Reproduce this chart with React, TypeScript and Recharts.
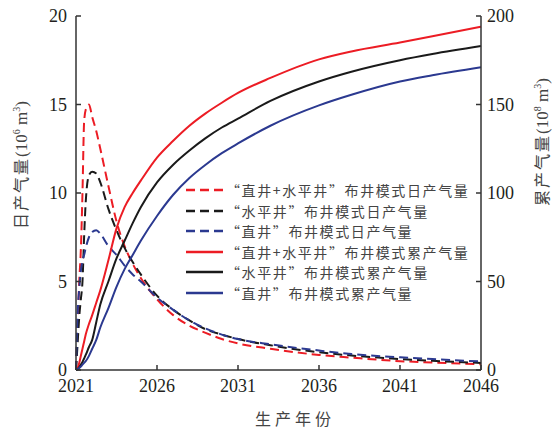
import { LineChart, Line, XAxis, YAxis, Legend } from "recharts";

// 生产年份 (numeric, finer near the early peak)
const years = [
  2021, 2021.1, 2021.2, 2021.3, 2021.4, 2021.5, 2021.6, 2021.8, 2022, 2022.25, 2022.5, 2023, 2023.5, 2024, 2024.5,
  2025, 2026, 2027, 2028, 2029, 2030, 2031, 2033, 2036, 2038, 2041, 2043, 2046,
];

// 日产气量 (10^6 m3)
const dailyMixed = [
  0, 2.5, 5, 6.8, 10, 14, 14.7, 15.0, 14.3, 13.5, 12.5, 10.4, 8.4, 7.0, 6.0, 5.2, 4.0, 3.1, 2.5, 2.1, 1.75, 1.5, 1.2,
  0.85, 0.7, 0.5, 0.42, 0.32,
];
const dailyHorizontal = [
  0, 1.5, 3, 4, 5, 7.5, 9.5, 11.0, 11.2, 11.1, 10.6, 9.1, 7.9, 6.9, 6.1, 5.4, 4.2, 3.4, 2.8, 2.3, 2.0, 1.75, 1.4, 1.0,
  0.82, 0.62, 0.52, 0.4,
];
const dailyVertical = [
  0, 3.2, 4.6, 5.6, 6.2, 6.5, 6.9, 7.5, 7.8, 7.9, 7.7, 7.0, 6.5, 5.9, 5.4, 5.0, 4.1, 3.4, 2.8, 2.35, 2.0, 1.75, 1.45,
  1.1, 0.9, 0.72, 0.62, 0.48,
];

// 累产气量 (10^8 m3)
const cumMixed = [
  0, 1, 4, 8, 12, 16, 20, 26, 31, 38, 45, 62, 80, 92, 100, 107, 120, 129.5, 138, 145, 151, 156.5, 165, 175.5, 180, 185,
  188.5, 194,
];
const cumHorizontal = [
  0, 0.5, 1.5, 3, 4.5, 6.5, 8.5, 13, 17, 27, 37, 50, 63, 73, 83, 92, 106, 116, 124, 131, 137, 142, 152, 163, 168.5, 175,
  178.5, 183,
];
const cumVertical = [
  0, 0.5, 1.2, 2, 3, 4, 5, 8, 12, 17, 24, 35, 47, 57, 65, 73, 87, 99, 108.5, 116, 122.5, 128, 138, 149.5, 155.5, 163,
  166.5, 171,
];

const seriesNames = [
  "“直井+水平井”布井模式日产气量",
  "“水平井”布井模式日产气量",
  "“直井”布井模式日产气量",
  "“直井+水平井”布井模式累产气量",
  "“水平井”布井模式累产气量",
  "“直井”布井模式累产气量",
];

const xTicks = [2021, 2026, 2031, 2036, 2041, 2046];
const leftTicks = [0, 5, 10, 15, 20];
const rightTicks = [0, 50, 100, 150, 200];

const RED = "#ec1c24";
const BLACK = "#1a1a1a";
const BLUE = "#2b3990";

const data = years.map((year, i) => ({
  year,
  dailyMixed: dailyMixed[i],
  dailyHorizontal: dailyHorizontal[i],
  dailyVertical: dailyVertical[i],
  cumMixed: cumMixed[i],
  cumHorizontal: cumHorizontal[i],
  cumVertical: cumVertical[i],
}));

const serif = "'Liberation Serif', 'Times New Roman', 'Noto Sans CJK SC', serif";
const cjk = "'Noto Sans CJK SC', 'Noto Sans', sans-serif";
const tickStyle = { fontFamily: serif, fontSize: 18, fill: "#231f20" };
const axisLine = { stroke: "#333", strokeWidth: 1.5 };

function renderLegend(props: any) {
  const payload = [...(props.payload || [])].sort(
    (a: any, b: any) => seriesNames.indexOf(a.value) - seriesNames.indexOf(b.value),
  );
  return (
    <div style={{ fontFamily: cjk, fontSize: 14, color: "#444", letterSpacing: 1.6 }}>
      {payload.map((entry: any) => (
        <div key={entry.value} style={{ display: "flex", alignItems: "center", height: 20.5, whiteSpace: "nowrap" }}>
          <svg width={40} height={4} style={{ display: "block" }}>
            <line
              x1={0}
              y1={2}
              x2={37}
              y2={2}
              stroke={entry.color}
              strokeWidth={2.5}
              strokeDasharray={entry.payload?.strokeDasharray}
            />
          </svg>
          <span>{entry.value}</span>
        </div>
      ))}
    </div>
  );
}

export default function App() {
  return (
    <div style={{ position: "absolute", left: 0, top: 0, background: "#fff" }}>
      <LineChart width={558} height={432} data={data} margin={{ top: 16, right: 0, bottom: 0, left: 0 }}>
        <XAxis
          dataKey="year"
          type="number"
          domain={[2021, 2046]}
          ticks={xTicks}
          height={62}
          tickSize={-5}
          tickMargin={14}
          axisLine={axisLine}
          tickLine={axisLine}
          tick={tickStyle}
          label={{
            content: () => (
              <text x={295} y={425} textAnchor="middle" fontFamily={cjk} fontSize={16} fill="#444" letterSpacing={4}>
                生产年份
              </text>
            ),
          }}
        />
        <YAxis
          yAxisId="left"
          domain={[0, 20]}
          ticks={leftTicks}
          width={76}
          tickSize={-5}
          tickMargin={14}
          axisLine={axisLine}
          tickLine={axisLine}
          tick={tickStyle}
          label={{
            content: () => (
              <text x={27} y={165} transform="rotate(-90 27 165)" textAnchor="middle" fill="#444" fontSize={16}>
                <tspan fontFamily={cjk} letterSpacing={2}>日产气量</tspan>
                <tspan fontFamily={serif} fontSize={17}>(10</tspan>
                <tspan fontFamily={serif} fontSize={10} dy={-7}>6</tspan>
                <tspan fontFamily={serif} fontSize={17} dy={7}> m</tspan>
                <tspan fontFamily={serif} fontSize={10} dy={-7}>3</tspan>
                <tspan fontFamily={serif} fontSize={17} dy={7}>)</tspan>
              </text>
            ),
          }}
        />
        <YAxis
          yAxisId="right"
          orientation="right"
          domain={[0, 200]}
          ticks={rightTicks}
          width={77}
          tickSize={-5}
          tickMargin={11}
          axisLine={axisLine}
          tickLine={axisLine}
          tick={tickStyle}
          label={{
            content: () => (
              <text x={548} y={142} transform="rotate(-90 548 142)" textAnchor="middle" fill="#444" fontSize={16}>
                <tspan fontFamily={cjk} letterSpacing={2}>累产气量</tspan>
                <tspan fontFamily={serif} fontSize={17}>(10</tspan>
                <tspan fontFamily={serif} fontSize={10} dy={-7}>8</tspan>
                <tspan fontFamily={serif} fontSize={17} dy={7}> m</tspan>
                <tspan fontFamily={serif} fontSize={10} dy={-7}>3</tspan>
                <tspan fontFamily={serif} fontSize={17} dy={7}>)</tspan>
              </text>
            ),
          }}
        />
        <Legend
          layout="vertical"
          align="center"
          verticalAlign="middle"
          content={renderLegend}
          wrapperStyle={{ position: "absolute", left: 186, top: 180, width: "auto" }}
        />
        <Line
          yAxisId="left"
          dataKey="dailyMixed"
          name={seriesNames[0]}
          type="monotone"
          stroke={RED}
          strokeWidth={2}
          strokeDasharray="9 5"
          dot={false}
          isAnimationActive={false}
        />
        <Line
          yAxisId="left"
          dataKey="dailyHorizontal"
          name={seriesNames[1]}
          type="monotone"
          stroke={BLACK}
          strokeWidth={2}
          strokeDasharray="9 5"
          dot={false}
          isAnimationActive={false}
        />
        <Line
          yAxisId="left"
          dataKey="dailyVertical"
          name={seriesNames[2]}
          type="monotone"
          stroke={BLUE}
          strokeWidth={2}
          strokeDasharray="9 5"
          dot={false}
          isAnimationActive={false}
        />
        <Line
          yAxisId="right"
          dataKey="cumMixed"
          name={seriesNames[3]}
          type="monotone"
          stroke={RED}
          strokeWidth={2}
          dot={false}
          isAnimationActive={false}
        />
        <Line
          yAxisId="right"
          dataKey="cumHorizontal"
          name={seriesNames[4]}
          type="monotone"
          stroke={BLACK}
          strokeWidth={2}
          dot={false}
          isAnimationActive={false}
        />
        <Line
          yAxisId="right"
          dataKey="cumVertical"
          name={seriesNames[5]}
          type="monotone"
          stroke={BLUE}
          strokeWidth={2}
          dot={false}
          isAnimationActive={false}
        />
      </LineChart>
    </div>
  );
}
